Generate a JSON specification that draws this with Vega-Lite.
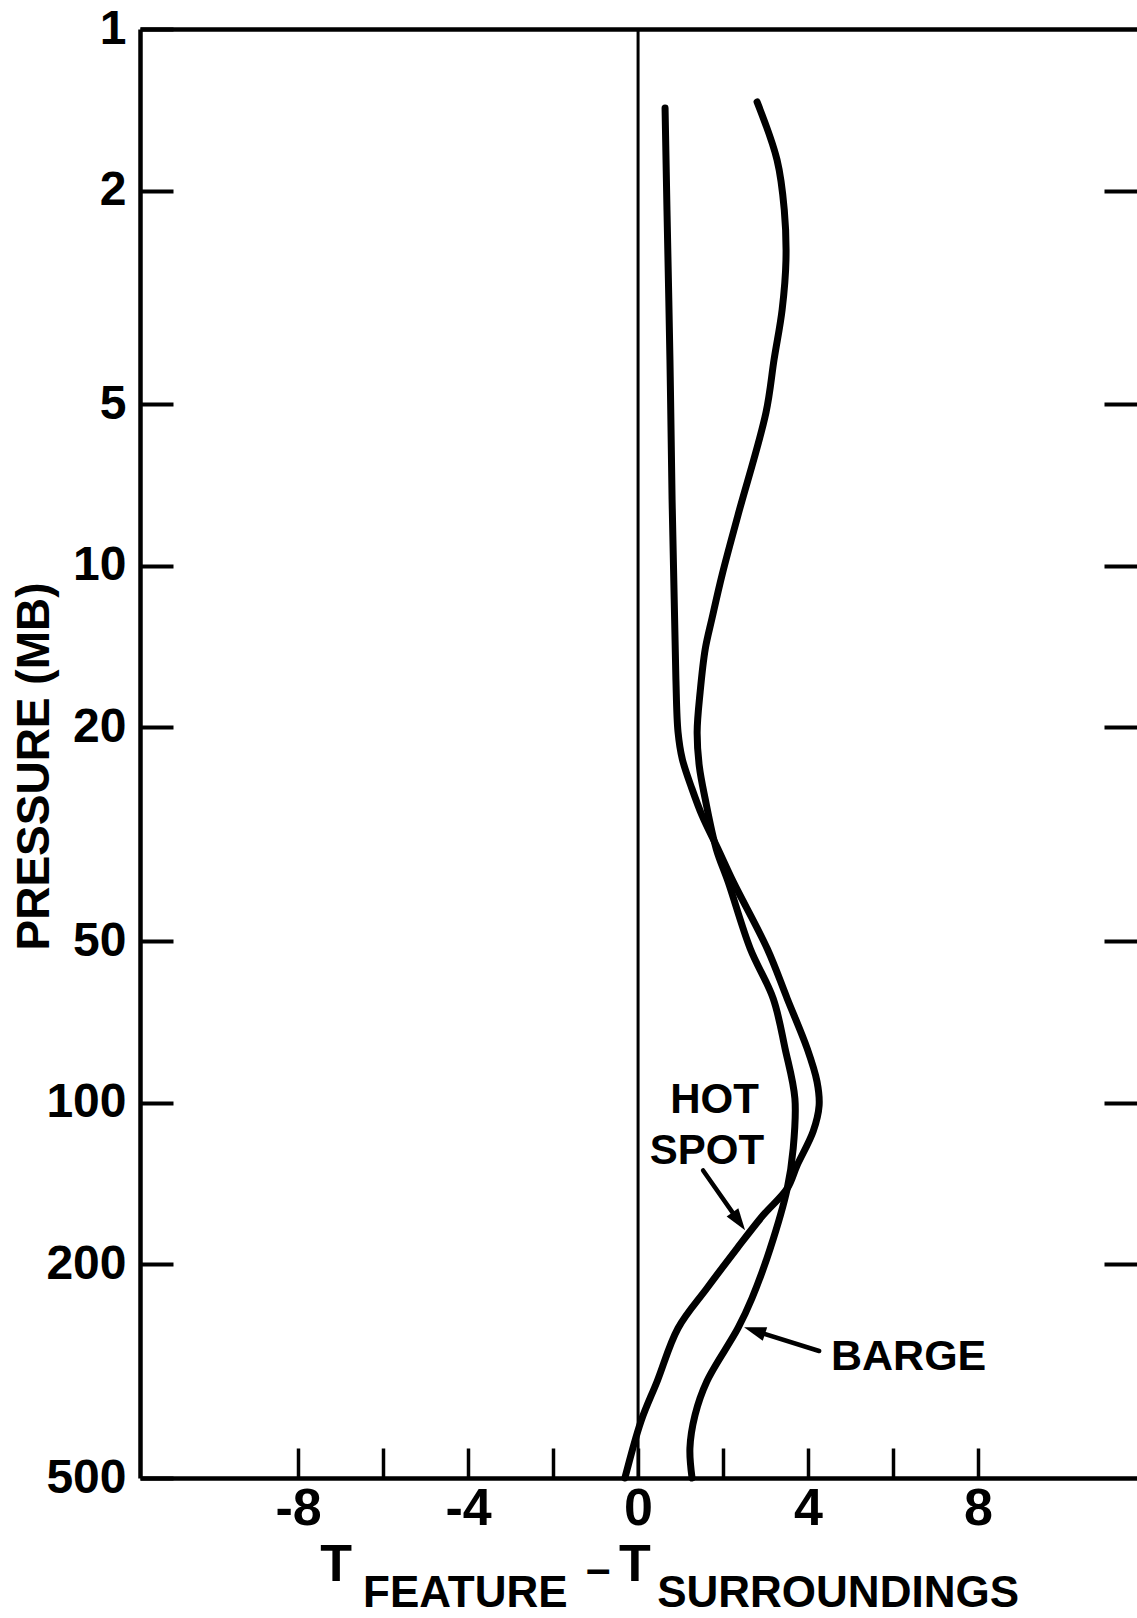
{
  "$schema": "https://vega.github.io/schema/vega-lite/v6.json",
  "width": 997,
  "height": 1449,
  "autosize": {"type": "none"},
  "padding": {"left": 140, "top": 29, "right": 0, "bottom": 140},
  "background": "white",
  "config": {
    "view": {"stroke": null},
    "axis": {"grid": false, "domainColor": "black", "tickColor": "black", "labelColor": "black", "titleColor": "black", "labelFont": "Liberation Sans", "titleFont": "Liberation Sans", "labelFontWeight": "bold", "titleFontWeight": "bold"},
    "text": {"font": "Liberation Sans", "fontWeight": "bold", "color": "black"}
  },
  "datasets": {
    "hot": [
      {"p": 1.403, "dT": 0.635}, {"p": 2.171, "dT": 0.68}, {"p": 4.128, "dT": 0.75}, {"p": 7.516, "dT": 0.80},
      {"p": 11.54, "dT": 0.85}, {"p": 16.25, "dT": 0.89}, {"p": 20.39, "dT": 0.94}, {"p": 22.89, "dT": 1.04},
      {"p": 26.04, "dT": 1.27}, {"p": 29.23, "dT": 1.51}, {"p": 33.67, "dT": 1.88}, {"p": 38.78, "dT": 2.24},
      {"p": 51.67, "dT": 3.04}, {"p": 64.0, "dT": 3.51}, {"p": 79.3, "dT": 3.98}, {"p": 91.3, "dT": 4.21},
      {"p": 101.2, "dT": 4.26}, {"p": 113.1, "dT": 4.12}, {"p": 130.9, "dT": 3.74}, {"p": 144.4, "dT": 3.51},
      {"p": 162.1, "dT": 2.94}, {"p": 186.7, "dT": 2.33}, {"p": 221.6, "dT": 1.62}, {"p": 263.0, "dT": 0.94},
      {"p": 330.1, "dT": 0.45}, {"p": 391.7, "dT": 0.07}, {"p": 500, "dT": -0.31}
    ],
    "barge": [
      {"p": 1.367, "dT": 2.80}, {"p": 1.753, "dT": 3.27}, {"p": 2.171, "dT": 3.44}, {"p": 2.69, "dT": 3.48},
      {"p": 3.332, "dT": 3.39}, {"p": 4.128, "dT": 3.20}, {"p": 5.18, "dT": 3.01}, {"p": 8.05, "dT": 2.35},
      {"p": 10.37, "dT": 1.98}, {"p": 12.52, "dT": 1.74}, {"p": 14.29, "dT": 1.58}, {"p": 17.19, "dT": 1.46},
      {"p": 20.39, "dT": 1.39}, {"p": 23.59, "dT": 1.44}, {"p": 27.18, "dT": 1.58}, {"p": 33.67, "dT": 1.84},
      {"p": 38.78, "dT": 2.12}, {"p": 51.67, "dT": 2.64}, {"p": 64.0, "dT": 3.18}, {"p": 79.3, "dT": 3.46},
      {"p": 98.2, "dT": 3.69}, {"p": 121.7, "dT": 3.65}, {"p": 144.4, "dT": 3.51}, {"p": 186.7, "dT": 3.11},
      {"p": 231.3, "dT": 2.68}, {"p": 263.0, "dT": 2.35}, {"p": 330.1, "dT": 1.62}, {"p": 381.7, "dT": 1.34},
      {"p": 439.8, "dT": 1.22}, {"p": 500, "dT": 1.27}
    ],
    "one": [{}]
  },
  "layer": [
    {
      "data": {"name": "hot"},
      "mark": {"type": "line", "interpolate": "catmull-rom", "strokeWidth": 7, "strokeCap": "round", "strokeJoin": "round", "color": "black"},
      "encoding": {
        "x": {"field": "dT", "type": "quantitative", "scale": {"domain": [-11.72, 11.74], "nice": false, "zero": false},
          "axis": {"orient": "bottom", "values": [-8, -6, -4, -2, 0, 2, 4, 6, 8], "tickSize": -30, "tickWidth": 3.5, "domainWidth": 4.5, "labelFontSize": 52, "labelPadding": 35, "labelBaseline": "top", "labelFlush": false, "labelOverlap": false, "labelExpr": "datum.value % 4 == 0 ? (datum.value < 0 ? '-' + abs(datum.value) : '' + datum.value) : ''", "title": null}},
        "y": {"field": "p", "type": "quantitative", "scale": {"type": "log", "domain": [1, 500], "reverse": true, "nice": false},
          "axis": {"orient": "left", "values": [1, 2, 5, 10, 20, 50, 100, 200, 500], "format": "d", "tickSize": -33, "tickWidth": 4, "domainWidth": 4.5, "labelFontSize": 48, "labelPadding": 47, "labelBaseline": "middle", "labelFlush": false, "labelOverlap": false,
            "title": "PRESSURE (MB)", "titleFontSize": 46, "titleAngle": 270, "titleX": -106, "titleY": 737, "titleAlign": "center", "titleBaseline": "middle"}},
        "order": {"field": "p", "type": "quantitative"}
      }
    },
    {
      "data": {"name": "barge"},
      "mark": {"type": "line", "interpolate": "catmull-rom", "strokeWidth": 7, "strokeCap": "round", "strokeJoin": "round", "color": "black"},
      "encoding": {
        "x": {"field": "dT", "type": "quantitative", "scale": {"domain": [-11.72, 11.74], "nice": false, "zero": false}, "axis": null},
        "y": {"field": "p", "type": "quantitative", "scale": {"type": "log", "domain": [1, 500], "reverse": true, "nice": false},
          "axis": {"orient": "right", "values": [2, 5, 10, 20, 50, 100, 200], "tickSize": -33, "tickWidth": 4, "domain": false, "labels": false, "title": null}},
        "order": {"field": "p", "type": "quantitative"}
      }
    },
    {
      "data": {"name": "one"},
      "mark": {"type": "rule", "strokeWidth": 3, "color": "black"},
      "encoding": {
        "x": {"datum": 0, "type": "quantitative", "scale": {"domain": [-11.72, 11.74], "nice": false, "zero": false},
          "axis": {"orient": "top", "domainWidth": 4.5, "ticks": false, "labels": false, "title": null}}
      }
    },
    {
      "data": {"name": "one"},
      "mark": {"type": "rule", "strokeWidth": 4.5, "color": "black", "strokeCap": "round"},
      "encoding": {
        "x": {"datum": 1.53, "type": "quantitative", "axis": null},
        "y": {"datum": 133.7, "type": "quantitative", "axis": null},
        "x2": {"datum": 2.37},
        "y2": {"datum": 166.3}
      }
    },
    {
      "data": {"name": "one"},
      "mark": {"type": "rule", "strokeWidth": 4.5, "color": "black", "strokeCap": "round"},
      "encoding": {
        "x": {"datum": 4.26, "type": "quantitative", "axis": null},
        "y": {"datum": 290, "type": "quantitative", "axis": null},
        "x2": {"datum": 2.74},
        "y2": {"datum": 265.8}
      }
    },
    {
      "data": {"name": "one"},
      "mark": {"type": "point", "shape": "M-0.65,1L0.65,1L0,-1Z", "filled": true, "size": 484, "angle": 145, "color": "black", "opacity": 1},
      "encoding": {
        "x": {"datum": 2.37, "type": "quantitative", "axis": null},
        "y": {"datum": 166.3, "type": "quantitative", "axis": null}
      }
    },
    {
      "data": {"name": "one"},
      "mark": {"type": "point", "shape": "M-0.65,1L0.65,1L0,-1Z", "filled": true, "size": 484, "angle": 288, "color": "black", "opacity": 1},
      "encoding": {
        "x": {"datum": 2.74, "type": "quantitative", "axis": null},
        "y": {"datum": 265.8, "type": "quantitative", "axis": null}
      }
    },
    {
      "data": {"name": "one"},
      "mark": {"type": "text", "text": "HOT", "fontSize": 42, "align": "center", "baseline": "alphabetic"},
      "encoding": {
        "x": {"datum": 1.8, "type": "quantitative", "axis": null},
        "y": {"datum": 104.3, "type": "quantitative", "axis": null}
      }
    },
    {
      "data": {"name": "one"},
      "mark": {"type": "text", "text": "SPOT", "fontSize": 42, "align": "center", "baseline": "alphabetic"},
      "encoding": {
        "x": {"datum": 1.62, "type": "quantitative", "axis": null},
        "y": {"datum": 130.3, "type": "quantitative", "axis": null}
      }
    },
    {
      "data": {"name": "one"},
      "mark": {"type": "text", "text": "BARGE", "fontSize": 43, "align": "left", "baseline": "alphabetic"},
      "encoding": {
        "x": {"datum": 4.54, "type": "quantitative", "axis": null},
        "y": {"datum": 314.9, "type": "quantitative", "axis": null}
      }
    },
    {
      "data": {"name": "one"},
      "mark": {"type": "text", "text": "T", "fontSize": 52, "align": "left", "baseline": "alphabetic", "dy": 103},
      "encoding": {
        "x": {"datum": -7.48, "type": "quantitative", "axis": null},
        "y": {"datum": 500, "type": "quantitative", "axis": null}
      }
    },
    {
      "data": {"name": "one"},
      "mark": {"type": "text", "text": "FEATURE", "fontSize": 44, "align": "left", "baseline": "alphabetic", "dy": 129},
      "encoding": {
        "x": {"datum": -6.47, "type": "quantitative", "axis": null},
        "y": {"datum": 500, "type": "quantitative", "axis": null}
      }
    },
    {
      "data": {"name": "one"},
      "mark": {"type": "text", "text": "–", "fontSize": 44, "align": "center", "baseline": "alphabetic", "dy": 106},
      "encoding": {
        "x": {"datum": -0.94, "type": "quantitative", "axis": null},
        "y": {"datum": 500, "type": "quantitative", "axis": null}
      }
    },
    {
      "data": {"name": "one"},
      "mark": {"type": "text", "text": "T", "fontSize": 52, "align": "left", "baseline": "alphabetic", "dy": 103},
      "encoding": {
        "x": {"datum": -0.45, "type": "quantitative", "axis": null},
        "y": {"datum": 500, "type": "quantitative", "axis": null}
      }
    },
    {
      "data": {"name": "one"},
      "mark": {"type": "text", "text": "SURROUNDINGS", "fontSize": 44, "align": "left", "baseline": "alphabetic", "dy": 129},
      "encoding": {
        "x": {"datum": 0.45, "type": "quantitative", "axis": null},
        "y": {"datum": 500, "type": "quantitative", "axis": null}
      }
    }
  ],
  "resolve": {"axis": {"x": "independent", "y": "independent"}}
}
